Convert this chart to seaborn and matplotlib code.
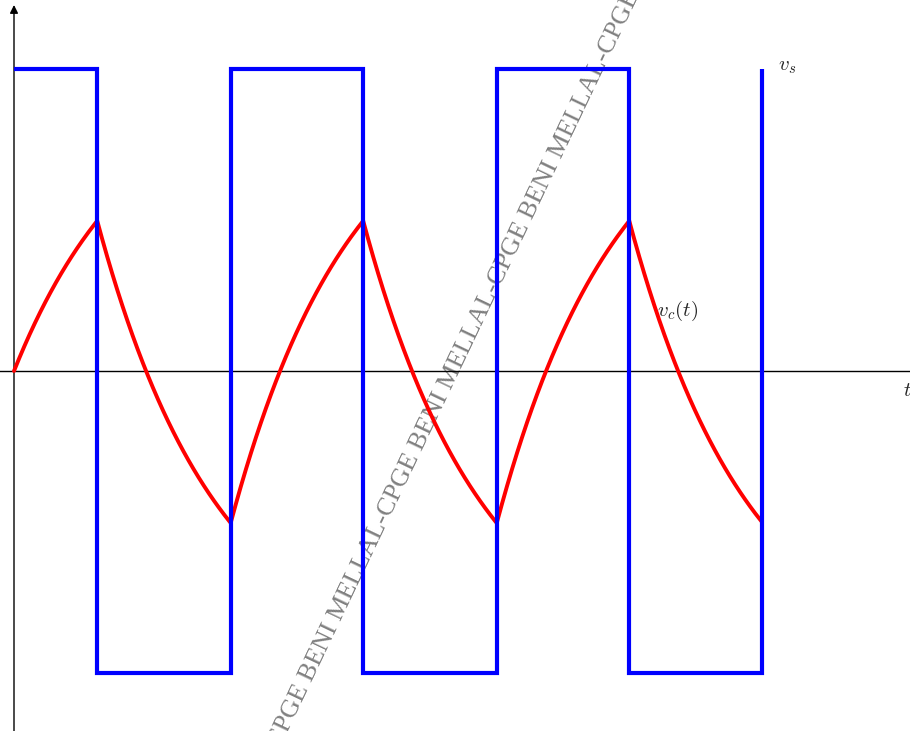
import numpy as np
import pandas as pd
import matplotlib
matplotlib.use("Agg")
import matplotlib.pyplot as plt
import seaborn as sns

# Square-wave source and RC capacitor response (time in units of tau)
switch_times = [0.0, 0.686, 1.793, 2.884, 3.992, 5.083, 6.182]
source_levels = [1, -1, 1, -1, 1, -1]          # v_s on each interval
cap_start_values = [0.0, 0.5, -0.5, 0.5, -0.5, 0.5]  # v_c at the start of each interval
final_level = 1                                 # v_s after the last switch
tau = 1.0

# Build the square wave as a step path
vs_t, vs_v = [], []
for i, lvl in enumerate(source_levels):
    vs_t += [switch_times[i], switch_times[i + 1]]
    vs_v += [lvl, lvl]
vs_t.append(switch_times[-1])
vs_v.append(final_level)
vs_df = pd.DataFrame({"t": vs_t, "v": vs_v})

# Capacitor voltage: exponential approach towards v_s on each interval
vc_t, vc_v = [], []
for i, lvl in enumerate(source_levels):
    t0, t1 = switch_times[i], switch_times[i + 1]
    tt = np.linspace(t0, t1, 80)
    vc_t += list(tt)
    vc_v += list(lvl + (cap_start_values[i] - lvl) * np.exp(-(tt - t0) / tau))
vc_df = pd.DataFrame({"t": vc_t, "v": vc_v})

sns.set_style("white")
plt.rcParams["mathtext.fontset"] = "cm"

fig = plt.figure(figsize=(9.10, 7.31), dpi=100)
ax = fig.add_axes([0, 0, 1, 1])

# Watermark
wm = "-".join(["CPGE BENI MELLAL"] * 4)
ax.text(493 / 910, 1 - 288 / 731, wm, transform=fig.transFigure,
        rotation=64.5, rotation_mode="anchor", ha="center", va="center",
        fontsize=18.8, family="Liberation Serif", color="#808080",
        zorder=0.5, clip_on=False)

# Axes
ax.plot([-0.2, 8.0], [0, 0], color="black", lw=1.0, zorder=1)
ax.annotate("", xy=(0, 1.212), xytext=(0, -1.3),
            arrowprops=dict(arrowstyle="-|>", lw=1.0, color="black",
                            mutation_scale=12, shrinkA=0, shrinkB=0),
            zorder=1)

sns.lineplot(data=vs_df, x="t", y="v", ax=ax, sort=False, estimator=None,
             color="#0000ff", lw=3.0, zorder=3,
             solid_joinstyle="miter", solid_capstyle="butt")
sns.lineplot(data=vc_df, x="t", y="v", ax=ax, sort=False, estimator=None,
             color="#ff0000", lw=2.8, zorder=2)
ax.axis("off")
ax.set_xlim(-0.1157, 7.405)
ax.set_ylim(-1.192, 1.2285)

ax.text(6.314, 0.995, r"$v_s$", fontsize=15, ha="left", va="baseline")
ax.text(5.31, 0.182, r"$v_c(t)$", fontsize=15, ha="left", va="baseline")
ax.text(7.347, -0.063, r"$t$", fontsize=15, ha="left", va="center")

fig.savefig("out.png", dpi=100)
